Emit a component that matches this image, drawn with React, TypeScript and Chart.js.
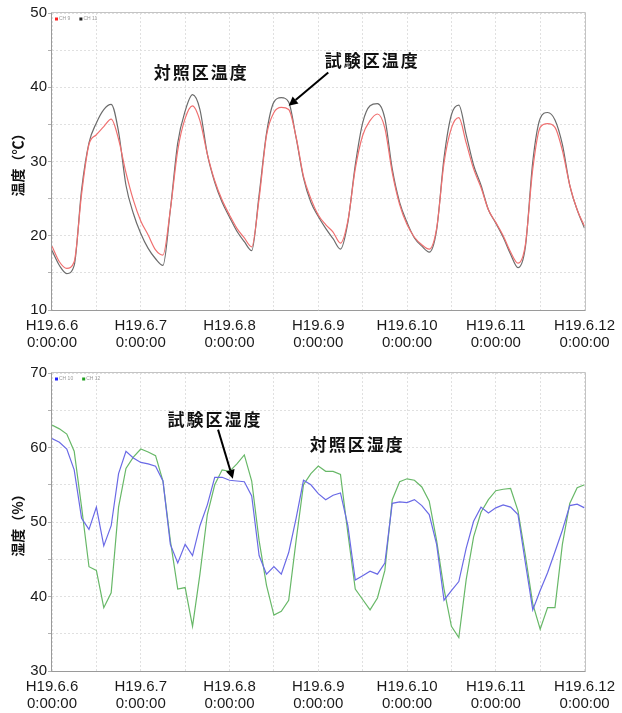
import React, { useEffect, useRef } from 'react';
import { Chart, registerables } from 'chart.js';

Chart.register(...registerables);

// ---- data (sampled every 2 hours, from H19.6.6 0:00 to H19.6.12 0:00) ----
const SAMPLE_STEP_HOURS = 2;
const DAY_LABELS = ['H19.6.6', 'H19.6.7', 'H19.6.8', 'H19.6.9', 'H19.6.10', 'H19.6.11', 'H19.6.12'];
const TIME_LABEL = '0:00:00';

// Temperature (°C)
const CH9_TEMP = [
  18.6, 16.5, 15.6, 16.5, 25.6, 32.3, 33.6, 34.7, 35.7, 33.0, 28.5, 24.8,
  22.0, 20.1, 18.1, 17.4, 23.5, 31.5, 35.8, 37.5, 35.5, 31.0, 27.4, 24.8,
  22.8, 21.0, 19.7, 18.5, 25.0, 33.5, 36.6, 37.3, 37.0, 33.3, 28.0, 25.0,
  22.8, 21.5, 20.5, 19.0, 22.0, 29.0, 33.5, 35.5, 36.4, 34.5, 28.5, 24.2,
  21.5, 19.8, 18.8, 18.2, 21.0, 29.8, 34.5, 35.9, 32.5, 29.0, 26.5, 23.5,
  21.8, 20.0, 17.8, 16.3, 18.8, 29.0, 34.6, 35.1, 34.6, 31.5, 26.8, 23.5,
  21.3,
];
const CH11_TEMP = [
  18.0, 16.0, 14.9, 16.0, 26.2, 32.5, 35.2, 37.0, 37.7, 34.0, 26.8, 23.0,
  20.3, 18.3, 16.9, 16.0, 23.5, 32.5, 36.8, 39.0, 37.0, 31.0, 27.2, 24.5,
  22.5, 20.6, 19.2, 18.0, 25.5, 33.8, 38.0, 38.6, 38.0, 33.2, 27.8, 24.5,
  22.6, 21.0, 19.6, 18.2, 21.8, 29.5, 35.2, 37.5, 37.8, 35.8, 29.0, 24.5,
  21.8, 19.7, 18.6, 17.8, 20.8, 30.5, 36.3, 37.6, 33.6, 29.5, 26.8, 23.5,
  21.7, 19.8, 17.5, 15.7, 18.5, 30.0, 35.8, 36.6, 35.6, 32.3, 26.8, 23.5,
  21.0,
];

// Humidity (%)
const CH10_HUM = [
  61.2, 60.7, 59.8, 57.0, 50.5, 49.0, 52.0, 46.8, 49.5, 56.5, 59.5, 58.6,
  58.0, 57.8, 57.5, 55.5, 47.0, 44.5, 47.0, 45.5, 49.5, 52.3, 56.0, 56.0,
  55.6, 55.5, 55.4, 53.5, 45.5, 43.0, 44.0, 43.0, 45.9, 50.5, 55.6, 55.0,
  53.8, 53.0, 53.6, 53.9, 49.5, 42.2, 42.8, 43.4, 43.0, 44.5, 52.5, 52.7,
  52.6, 53.0, 52.2, 51.0, 47.0, 39.5, 40.8, 42.0, 46.5, 50.1, 52.0, 51.2,
  51.9, 52.3, 52.0, 51.0, 44.5, 38.2, 40.8, 43.2, 46.0, 48.9, 52.2, 52.4,
  51.9,
];
const CH12_HUM = [
  63.0, 62.5, 61.8, 59.5, 52.0, 44.0, 43.5, 38.5, 40.5, 52.0, 57.2, 58.7,
  59.8, 59.4, 58.9, 55.5, 47.5, 41.0, 41.2, 36.0, 43.0, 51.0, 55.0, 57.0,
  56.8, 57.8, 59.0, 55.5, 47.5, 41.5, 37.5, 38.0, 39.5, 47.5, 55.0, 56.5,
  57.5, 56.8, 56.8, 56.4, 48.5, 41.0, 39.6, 38.2, 39.8, 43.5, 53.0, 55.4,
  55.8, 55.6, 54.7, 52.8, 47.5, 41.0, 36.0, 34.5, 42.3, 48.0, 51.3, 53.0,
  54.2, 54.4, 54.5, 51.5, 45.5, 39.0, 35.6, 38.5, 38.5, 47.0, 52.5, 54.6,
  55.0,
];

const TEMP_TICKS = [10, 20, 30, 40, 50];
const HUM_TICKS = [30, 40, 50, 60, 70];

// annotations anchored in data coordinates (hour, value)
const TEMP_NOTES = [
  { text: '対照区温度', x: 40.1, y: 42.0 },
  { text: '試験区温度', x: 86.3, y: 43.6, from: [74.7, 42.0], to: [64.0, 37.5] },
];
const HUM_NOTES = [
  { text: '試験区湿度', x: 43.8, y: 63.8, from: [44.9, 62.4], to: [48.9, 55.8] },
  { text: '対照区湿度', x: 82.3, y: 60.4 },
];

const toPoints = (vals: number[]) => vals.map((v, i) => ({ x: i * SAMPLE_STEP_HOURS, y: v }));

const decorPlugin = {
  id: 'decor',
  afterDraw(chart: any) {
    const { ctx, chartArea: a } = chart;
    const notes = chart.options.plugins.decor?.notes || [];
    const xs = chart.scales.x;
    const ys = chart.scales.y;
    ctx.save();
    // frame
    const l = Math.round(a.left) - 0.5;
    const t = Math.round(a.top) - 0.5;
    const r = Math.round(a.right) + 0.5;
    const b = Math.round(a.bottom) + 0.5;
    ctx.lineWidth = 1;
    ctx.strokeStyle = '#c4c4c4';
    ctx.beginPath();
    ctx.moveTo(l, t); ctx.lineTo(r, t); ctx.lineTo(r, b);
    ctx.stroke();
    ctx.strokeStyle = '#9a9a9a';
    ctx.beginPath();
    ctx.moveTo(l, t); ctx.lineTo(l, b); ctx.lineTo(r, b);
    ctx.stroke();

    // small legend inside plot
    let lx = a.left + 3;
    const ly = a.top + 6;
    ctx.font = '5px "Liberation Sans", Arial, sans-serif';
    ctx.textBaseline = 'middle';
    ctx.textAlign = 'left';
    chart.data.datasets.forEach((ds: any) => {
      ctx.fillStyle = ds.legendColor || ds.borderColor;
      ctx.fillRect(lx, ly - 1.5, 3, 3);
      ctx.fillStyle = '#9a9a9a';
      ctx.fillText(ds.label, lx + 4, ly);
      lx += 4 + ctx.measureText(ds.label).width + 9;
    });

    // annotations
    notes.forEach((n: any) => {
      ctx.font = 'bold 17px "Noto Sans CJK JP", sans-serif';
      ctx.fillStyle = '#111';
      ctx.textAlign = 'center';
      ctx.textBaseline = 'middle';
      try { (ctx as any).letterSpacing = '2px'; } catch (e) {}
      ctx.fillText(n.text, xs.getPixelForValue(n.x) + 1, ys.getPixelForValue(n.y));
      try { (ctx as any).letterSpacing = '0px'; } catch (e) {}
      if (n.from && n.to) {
        const x1 = xs.getPixelForValue(n.from[0]);
        const y1 = ys.getPixelForValue(n.from[1]);
        const x2 = xs.getPixelForValue(n.to[0]);
        const y2 = ys.getPixelForValue(n.to[1]);
        const ang = Math.atan2(y2 - y1, x2 - x1);
        const head = 9;
        const hx = x2 - head * Math.cos(ang);
        const hy = y2 - head * Math.sin(ang);
        ctx.strokeStyle = '#000';
        ctx.lineWidth = 2;
        ctx.beginPath();
        ctx.moveTo(x1, y1);
        ctx.lineTo(hx, hy);
        ctx.stroke();
        ctx.fillStyle = '#000';
        ctx.beginPath();
        ctx.moveTo(x2, y2);
        ctx.lineTo(hx + 4.5 * Math.sin(ang), hy - 4.5 * Math.cos(ang));
        ctx.lineTo(hx - 4.5 * Math.sin(ang), hy + 4.5 * Math.cos(ang));
        ctx.closePath();
        ctx.fill();
      }
    });
    ctx.restore();
  },
};

function makeConfig(opts: {
  datasets: any[];
  yMin: number;
  yMax: number;
  yTicks: number[];
  yTitle: string;
  padTop: number;
  xAxisHeight: number;
  notes: any[];
}) {
  return {
    type: 'line',
    data: { datasets: opts.datasets },
    plugins: [decorPlugin],
    options: {
      animation: false,
      responsive: false,
      devicePixelRatio: 1,
      layout: { padding: { top: opts.padTop, right: 31, left: 0, bottom: 0 } },
      elements: { point: { radius: 0 }, line: { tension: 0, borderWidth: 1.2 } },
      plugins: {
        legend: { display: false },
        tooltip: { enabled: false },
        decor: { notes: opts.notes },
      },
      scales: {
        x: {
          type: 'linear',
          min: 0,
          max: (DAY_LABELS.length - 1) * 24,
          afterFit: (s: any) => { s.height = opts.xAxisHeight; },
          ticks: {
            stepSize: 12,
            autoSkip: false,
            maxRotation: 0,
            minRotation: 0,
            padding: 7,
            color: '#1a1a1a',
            font: { family: '"Liberation Sans", Arial, sans-serif', size: 15, lineHeight: 1.15 },
            callback: (v: number) => (v % 24 === 0 ? [DAY_LABELS[v / 24], TIME_LABEL] : ''),
          },
          grid: { color: '#e0e0e0', drawTicks: false, lineWidth: 1 },
          border: { display: false, dash: [2, 2] },
        },
        y: {
          min: opts.yMin,
          max: opts.yMax,
          afterFit: (s: any) => { s.width = 52; },
          ticks: {
            stepSize: 5,
            padding: 1,
            color: '#1a1a1a',
            font: { family: '"Liberation Sans", Arial, sans-serif', size: 15 },
            callback: (v: number) => (opts.yTicks.includes(v) ? String(v) : ''),
          },
          grid: { color: '#e0e0e0', tickLength: 4, tickColor: '#b0b0b0', tickBorderDash: [] },
          border: { display: false, dash: [2, 2] },
          title: {
            display: true,
            text: opts.yTitle,
            color: '#111',
            font: { family: '"Noto Sans CJK JP", sans-serif', size: 14, weight: 'bold' },
            padding: { top: 9, bottom: 0 },
          },
        },
      },
    },
  };
}

export default function App() {
  const topRef = useRef<HTMLCanvasElement>(null);
  const botRef = useRef<HTMLCanvasElement>(null);

  useEffect(() => {
    const tempChart = new Chart(topRef.current as HTMLCanvasElement, makeConfig({
      datasets: [
        { label: 'CH 9', data: toPoints(CH9_TEMP), borderColor: '#f07070', legendColor: '#ff2020', cubicInterpolationMode: 'monotone' },
        { label: 'CH 11', data: toPoints(CH11_TEMP), borderColor: '#6c6c6c', legendColor: '#202020', cubicInterpolationMode: 'monotone' },
      ],
      yMin: 10,
      yMax: 50,
      yTicks: TEMP_TICKS,
      yTitle: '温度（℃）',
      padTop: 13,
      xAxisHeight: 47,
      notes: TEMP_NOTES,
    }) as any);
    const humChart = new Chart(botRef.current as HTMLCanvasElement, makeConfig({
      datasets: [
        { label: 'CH 10', data: toPoints(CH10_HUM), borderColor: '#6a6ae6', legendColor: '#2020ff' },
        { label: 'CH 12', data: toPoints(CH12_HUM), borderColor: '#68b868', legendColor: '#20a020' },
      ],
      yMin: 30,
      yMax: 70,
      yTicks: HUM_TICKS,
      yTitle: '湿度（%）',
      padTop: 16,
      xAxisHeight: 42,
      notes: HUM_NOTES,
    }) as any);
    return () => {
      tempChart.destroy();
      humChart.destroy();
    };
  }, []);

  return (
    <div style={{ position: 'absolute', left: 0, top: 0, width: 622, height: 713, background: '#fff' }}>
      <canvas ref={topRef} width={622} height={357} style={{ display: 'block', width: 622, height: 357 }} />
      <canvas ref={botRef} width={622} height={356} style={{ display: 'block', width: 622, height: 356 }} />
    </div>
  );
}
